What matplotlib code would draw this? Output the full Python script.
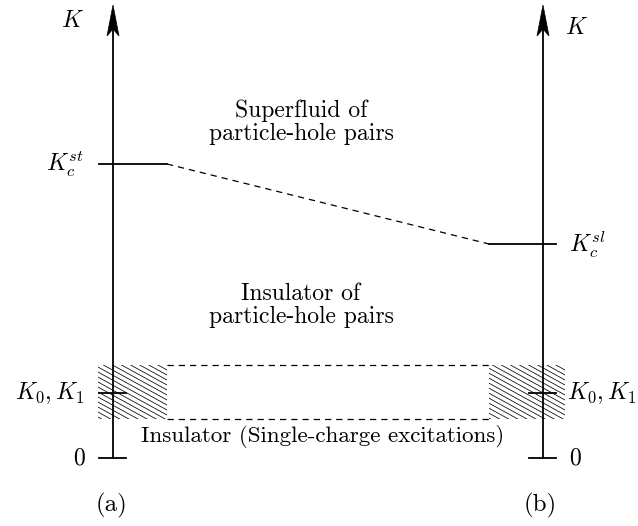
import matplotlib
matplotlib.use("Agg")
import matplotlib.pyplot as plt
import numpy as np
from matplotlib.patches import Rectangle, Polygon

plt.rcParams['mathtext.fontset'] = 'cm'
plt.rcParams['font.family'] = 'cmr10'
plt.rcParams['axes.unicode_minus'] = False

# Diagram layout in picture units (x to the right, y downward)
axis_x = [113, 543]
axis_top = 5
zero_y = 458
kc_y = [164, 244]
kc_labels = [r'$K_c^{st}$', r'$K_c^{sl}$']
k01_y = 393
band_y = [365, 419]
hatch_x = [(98, 167), (489, 565)]
panel_labels = ['(a)', '(b)']
region_text = ['Superfluid of\nparticle-hole pairs',
               'Insulator of\nparticle-hole pairs',
               'Insulator (Single-charge excitations)']
region_pos = [(301, 122), (301, 305), (323, 436)]

fig = plt.figure(figsize=(6.38, 5.26), dpi=100)
ax = fig.add_axes([0, 0, 1, 1])
ax.set_xlim(0, 638)
ax.set_ylim(526, 0)
ax.axis('off')

lw = 1.3
for x in axis_x:
    ax.plot([x, x], [zero_y, axis_top + 25], color='black', lw=lw)
    ax.add_patch(Polygon([(x, axis_top), (x + 6, axis_top + 31), (x, axis_top + 24),
                          (x - 6, axis_top + 31)], closed=True,
                         facecolor='black', edgecolor='black', lw=0.5))
    ax.plot([x - 14, x + 13], [zero_y, zero_y], color='black', lw=lw)
    ax.plot([x - 14, x + 13], [k01_y, k01_y], color='black', lw=lw)

# critical K lines
ax.plot([99, 167], [kc_y[0], kc_y[0]], color='black', lw=lw)
ax.plot([489, 556], [kc_y[1], kc_y[1]], color='black', lw=lw)
ax.plot([167, 489], kc_y, color='black', lw=0.9, ls=(0, (5, 4)))

# hatched bands (shallow diagonal lines) and dashed outline of the low K region
slope = 0.55
for x0, x1 in hatch_x:
    clip = Rectangle((x0, band_y[0]), x1 - x0, band_y[1] - band_y[0],
                     facecolor='none', edgecolor='none')
    ax.add_patch(clip)
    for c in np.arange(band_y[0] - slope * (x1 - x0), band_y[1] + 5, 5.0):
        ln, = ax.plot([x0, x1], [c, c + slope * (x1 - x0)], color='black', lw=0.55)
        ln.set_clip_path(clip)
for y in band_y:
    ax.plot([167, 489], [y, y], color='black', lw=0.9, ls=(0, (5, 4)))

fs = 17
ax.text(73, 21, r'$K$', fontsize=fs, ha='center', va='center')
ax.text(577, 28, r'$K$', fontsize=fs, ha='center', va='center')
ax.text(84, 164, kc_labels[0], fontsize=fs, ha='right', va='center')
ax.text(569, 245, kc_labels[1], fontsize=fs, ha='left', va='center')
ax.text(84, 393, r'$K_0, K_1$', fontsize=fs, ha='right', va='center')
ax.text(567, 393, r'$K_0, K_1$', fontsize=fs, ha='left', va='center')
ax.text(79, 458, '0', fontsize=fs, ha='center', va='center')
ax.text(575, 458, '0', fontsize=fs, ha='center', va='center')

for txt, (x, y), size in zip(region_text, region_pos, [17, 17, 16.6]):
    ax.text(x, y, txt, fontsize=size, ha='center', va='center', linespacing=1.05)

for txt, x in zip(panel_labels, [112, 540]):
    ax.text(x, 505, txt, fontsize=18, ha='center', va='center')

fig.savefig('out.png', dpi=100)
